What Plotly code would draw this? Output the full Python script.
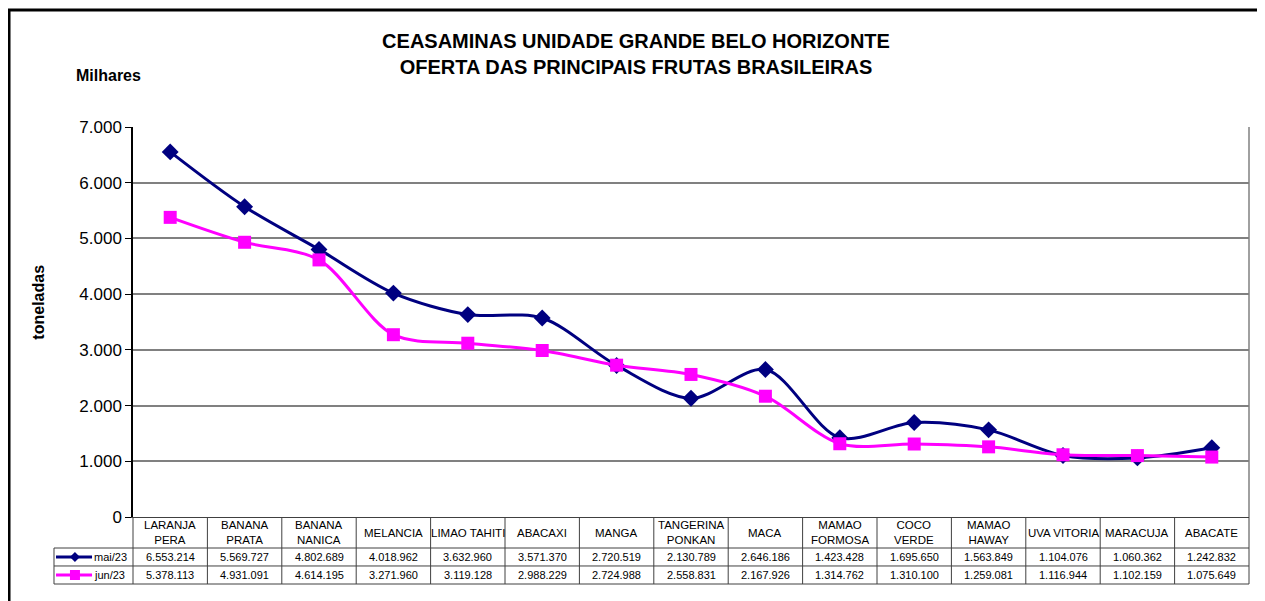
import plotly.graph_objects as go

frutas = ['LARANJA<br>PERA', 'BANANA<br>PRATA', 'BANANA<br>NANICA', 'MELANCIA', 'LIMAO TAHITI',
          'ABACAXI', 'MANGA', 'TANGERINA<br>PONKAN', 'MACA', 'MAMAO<br>FORMOSA', 'COCO<br>VERDE',
          'MAMAO<br>HAWAY', 'UVA VITORIA', 'MARACUJA', 'ABACATE']
mai23 = [6553214, 5569727, 4802689, 4018962, 3632960, 3571370, 2720519, 2130789,
         2646186, 1423428, 1695650, 1563849, 1104076, 1060362, 1242832]
jun23 = [5378113, 4931091, 4614195, 3271960, 3119128, 2988229, 2724988, 2558831,
         2167926, 1314762, 1310100, 1259081, 1116944, 1102159, 1075649]
series = [('mai/23', mai23, '#000080', 'diamond'), ('jun/23', jun23, '#FF00FF', 'square')]

FONT = 'Arial, Liberation Sans, sans-serif'
n = len(frutas)
x = list(range(n))


def br(v):
    return f'{v:,}'.replace(',', '.')


fig = go.Figure()
for name, vals, color, sym in series:
    fig.add_trace(go.Scatter(x=x, y=[v / 1000 for v in vals], name=name, mode='lines+markers',
                             line=dict(color=color, width=3, shape='spline', smoothing=0.9),
                             marker=dict(symbol=sym, size=13, color=color)))

# table rows (paper coords, below the plot)
r_head, r_mai, r_jun = -0.0795, -0.1256, -0.1718
rows = [(r_head, r_mai), (r_mai, r_jun)]
leg_x = -0.0708
line = dict(color='#404040', width=1)
shapes = [
    dict(type='rect', xref='paper', yref='paper', x0=-0.1111, x1=1.0116, y0=-0.3, y1=1.3,
         line=dict(color='black', width=3)),
    dict(type='line', xref='paper', yref='paper', x0=1, x1=1, y0=0, y1=1,
         line=dict(color='#808080', width=1.5)),
    dict(type='line', xref='paper', yref='paper', x0=leg_x, x1=1, y0=r_head, y1=r_head, line=line),
    dict(type='line', xref='paper', yref='paper', x0=leg_x, x1=1, y0=r_mai, y1=r_mai, line=line),
    dict(type='line', xref='paper', yref='paper', x0=leg_x, x1=1, y0=r_jun, y1=r_jun, line=line),
    dict(type='line', xref='paper', yref='paper', x0=leg_x, x1=leg_x, y0=r_head, y1=r_jun, line=line),
]
for i in range(n + 1):
    shapes.append(dict(type='line', xref='paper', yref='paper', x0=i / n, x1=i / n,
                       y0=0, y1=r_jun, line=line))

annotations = [
    dict(text='<b>Milhares</b>', xref='paper', yref='paper', x=-0.0525, y=1.131,
         xanchor='left', yanchor='middle', showarrow=False, font=dict(size=16, color='black')),
    dict(text='<b>toneladas</b>', xref='paper', yref='paper', x=-0.085, y=0.55,
         xanchor='center', yanchor='middle',
         textangle=-90, showarrow=False, font=dict(size=16, color='black')),
]

# legend keys drawn inside the table
marker_path = {'diamond': 'M0,-5 L5,0 L0,5 L-5,0 Z', 'square': 'M-5,-5 L5,-5 L5,5 L-5,5 Z'}
for (name, vals, color, sym), (top, bot) in zip(series, rows):
    ym = (top + bot) / 2
    shapes.append(dict(type='line', xref='paper', yref='paper', x0=-0.069, x1=-0.0367,
                       y0=ym, y1=ym, line=dict(color=color, width=3)))
    shapes.append(dict(type='path', xref='paper', yref='paper', xsizemode='pixel', ysizemode='pixel',
                       xanchor=-0.052, yanchor=ym, path=marker_path[sym],
                       fillcolor=color, line=dict(color=color, width=0)))
    annotations.append(dict(text=name, xref='paper', yref='paper', x=-0.0365, y=ym,
                            xanchor='left', yanchor='middle',
                            showarrow=False, font=dict(size=11, color='black')))

for i, f in enumerate(frutas):
    annotations.append(dict(text=f, x=i, xref='x', yref='paper', y=r_head / 2, showarrow=False,
                            xanchor='center', yanchor='middle', font=dict(size=11.5, color='black')))
    for (name, vals, color, sym), (top, bot) in zip(series, rows):
        annotations.append(dict(text=br(vals[i]), x=i, xref='x', yref='paper', y=(top + bot) / 2,
                                xanchor='center', yanchor='middle',
                                showarrow=False, font=dict(size=11, color='black')))

fig.update_layout(
    width=1257, height=593,
    margin=dict(l=125, r=16, t=119, b=84),
    plot_bgcolor='white', paper_bgcolor='white',
    font=dict(family=FONT, color='black'),
    separators=',.',
    title=dict(text='<b>CEASAMINAS UNIDADE GRANDE BELO HORIZONTE<br>OFERTA DAS PRINCIPAIS FRUTAS BRASILEIRAS</b>',
               x=0.4996, xanchor='center', y=0.932, yanchor='middle', font=dict(size=20, color='black')),
    xaxis=dict(range=[-0.5, n - 0.5], showticklabels=False, showgrid=False, zeroline=False,
               showline=True, linecolor='#404040', linewidth=1),
    yaxis=dict(range=[0, 7000], dtick=1000, tickformat=',d', showgrid=True, gridcolor='#808080',
               gridwidth=1.5, zeroline=False, showline=True, linecolor='black', linewidth=1.5,
               ticks='outside', ticklen=6, tickcolor='black', tickfont=dict(size=17, color='black')),
    showlegend=False,
    shapes=shapes, annotations=annotations,
)

fig.write_html('out.html')
